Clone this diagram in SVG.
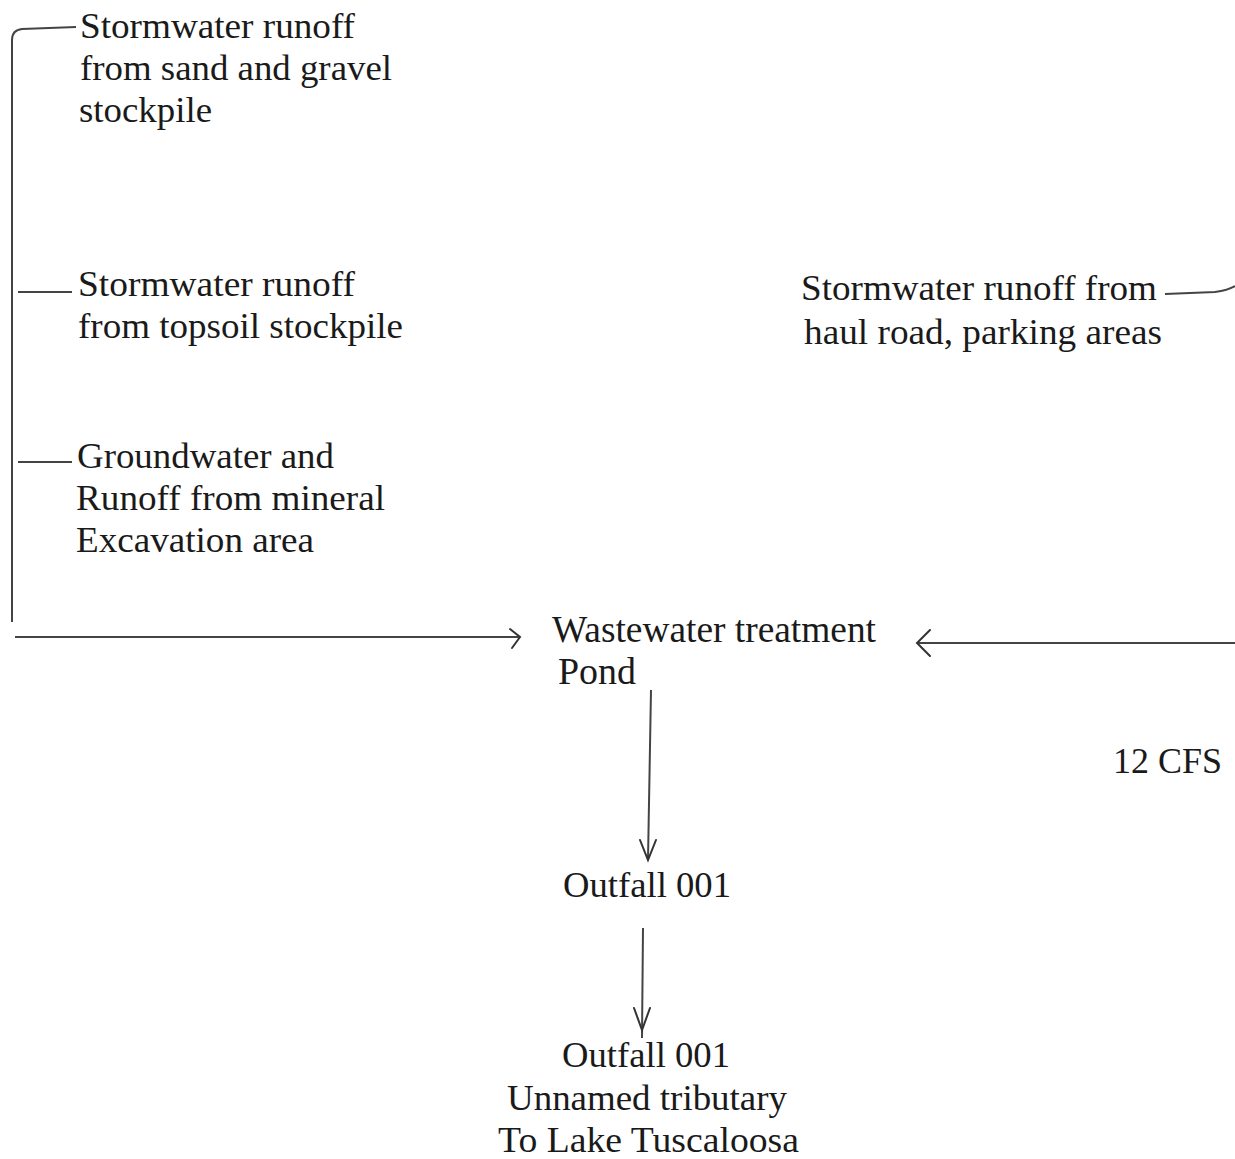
<svg xmlns="http://www.w3.org/2000/svg" width="1235" height="1159" viewBox="0 0 1235 1159">
<defs>
<style>
text{font-family:"Liberation Serif","Times New Roman",serif;font-size:36px;fill:#1a1a1a}
.tall{font-size:38px}
.ln{stroke:#444;stroke-width:2;fill:none}
.hd{stroke:#333;stroke-width:2;fill:none;stroke-linecap:round}
</style>
</defs>
<rect width="1235" height="1159" fill="#fff"/>
<g id="connectors">
<path class="ln" d="M12,622 L12,40 Q12,30 22,29 L76,27"/>
<path class="ln" d="M18,292 L72,292"/>
<path class="ln" d="M18,462 L72,462"/>
<path class="ln" d="M15,637 L520,637"/>
<path class="hd" d="M510,629 L520,637 L512,648"/>
<path class="ln" d="M1165,294 L1215,292 Q1228,290 1235,286"/>
<path class="ln" d="M1235,643 L917,643"/>
<path class="hd" d="M930,630 L917,643 L930,656"/>
<path class="ln" d="M651,690 L648,860"/>
<path class="hd" d="M640,840 L648,860 L656,840"/>
<path class="ln" d="M643,928 L642,1038"/>
<path class="hd" d="M634,1008 L642,1030 L650,1008"/>
</g>
<g id="n1"><text x="80" y="38" textLength="275" lengthAdjust="spacingAndGlyphs">Stormwater runoff</text><text x="80" y="80" textLength="312" lengthAdjust="spacingAndGlyphs">from sand and gravel</text><text x="79" y="122" textLength="133" lengthAdjust="spacingAndGlyphs">stockpile</text></g>
<g id="n2"><text x="78" y="296" textLength="277" lengthAdjust="spacingAndGlyphs">Stormwater runoff</text><text x="78" y="338" textLength="325" lengthAdjust="spacingAndGlyphs">from topsoil stockpile</text></g>
<g id="n3"><text x="77" y="468" textLength="257" lengthAdjust="spacingAndGlyphs">Groundwater and</text><text x="76" y="510" textLength="309" lengthAdjust="spacingAndGlyphs">Runoff from mineral</text><text x="76" y="552" textLength="238" lengthAdjust="spacingAndGlyphs">Excavation area</text></g>
<g id="n4"><text x="801" y="300" textLength="356" lengthAdjust="spacingAndGlyphs">Stormwater runoff from</text><text x="804" y="344" textLength="358" lengthAdjust="spacingAndGlyphs">haul road, parking areas</text></g>
<g id="n5"><text class="tall" x="552" y="642" textLength="324" lengthAdjust="spacingAndGlyphs">Wastewater treatment</text><text class="tall" x="558" y="684" textLength="78" lengthAdjust="spacingAndGlyphs">Pond</text></g>
<g id="n6"><text x="1113" y="773" textLength="109" lengthAdjust="spacingAndGlyphs">12 CFS</text></g>
<g id="n7"><text x="563" y="897" textLength="168" lengthAdjust="spacingAndGlyphs">Outfall 001</text></g>
<g id="n8"><text x="562" y="1067" textLength="168" lengthAdjust="spacingAndGlyphs">Outfall 001</text><text x="507" y="1110" textLength="280" lengthAdjust="spacingAndGlyphs">Unnamed tributary</text><text x="498" y="1152" textLength="301" lengthAdjust="spacingAndGlyphs">To Lake Tuscaloosa</text></g>
</svg>
